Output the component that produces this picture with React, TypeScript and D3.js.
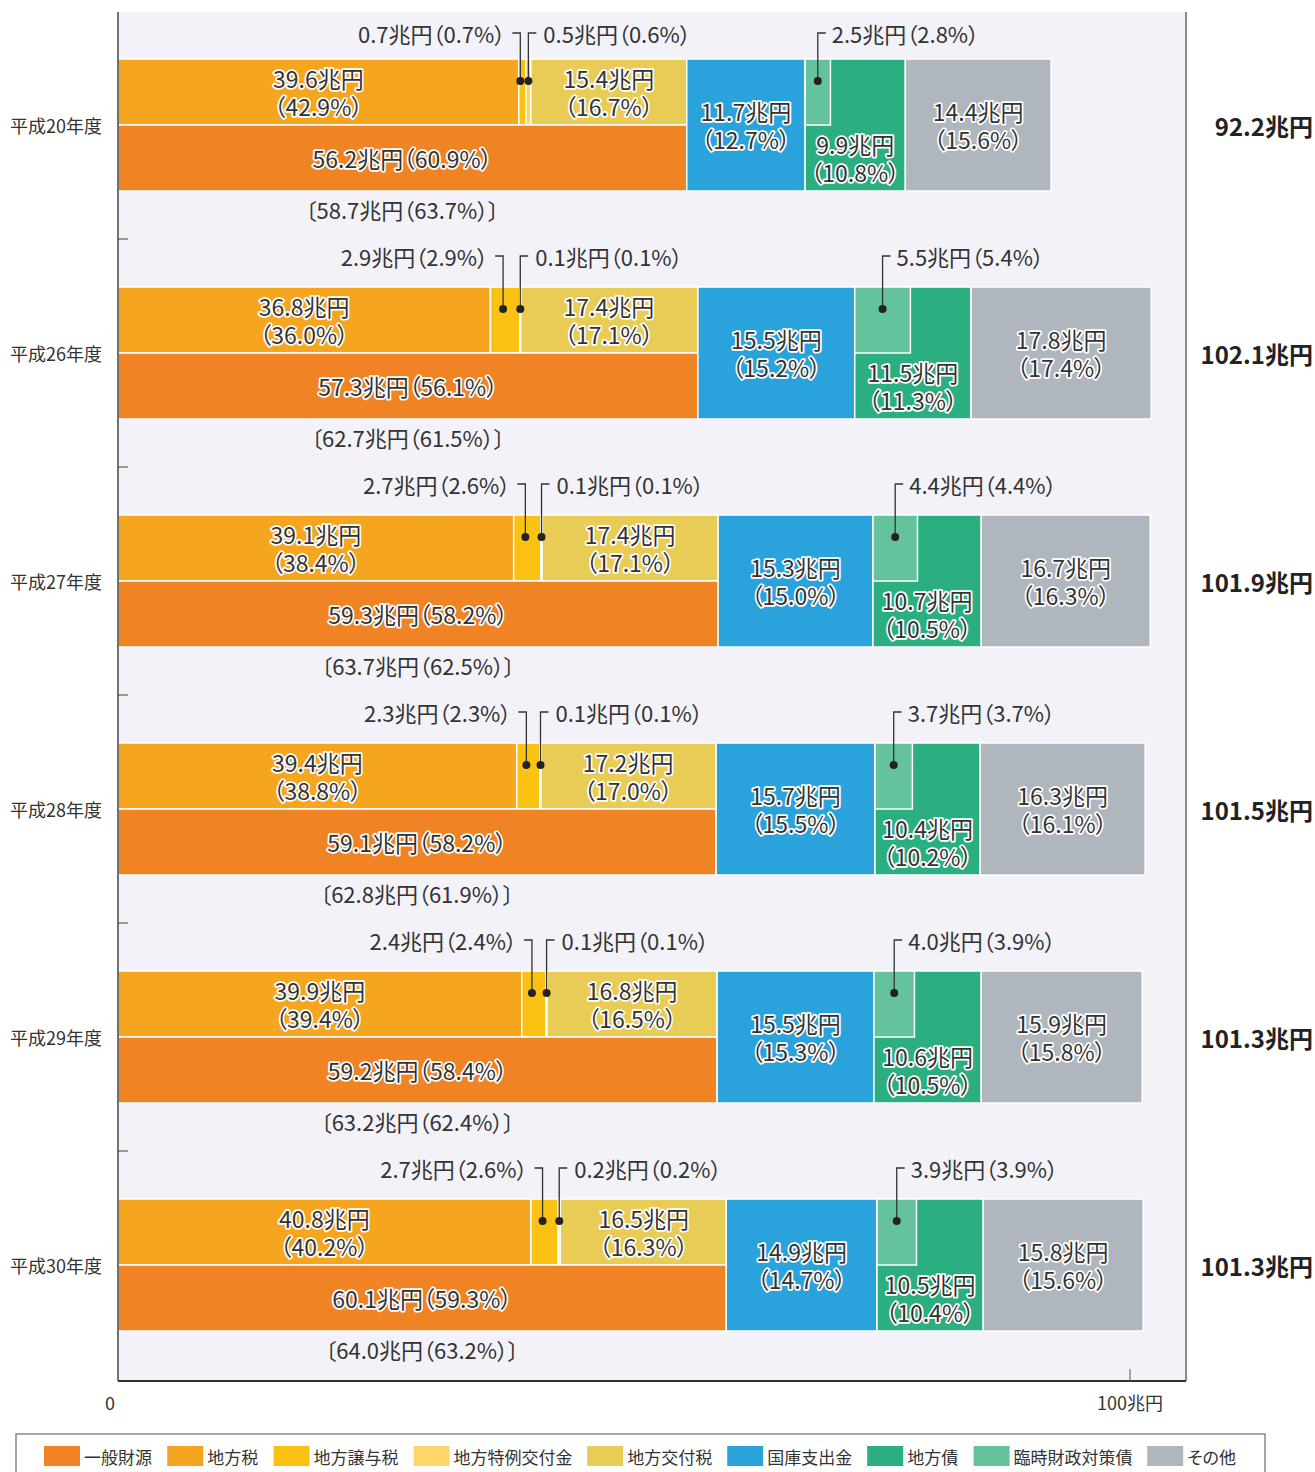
import React from 'react';
import * as d3 from 'd3';

const years = ['平成20年度', '平成26年度', '平成27年度', '平成28年度', '平成29年度', '平成30年度'];
const totals = [92.2, 102.1, 101.9, 101.5, 101.3, 101.3];

const localTax = [39.6, 36.8, 39.1, 39.4, 39.9, 40.8];
const localTaxPct = [42.9, 36.0, 38.4, 38.8, 39.4, 40.2];
const transferTax = [0.7, 2.9, 2.7, 2.3, 2.4, 2.7];
const transferTaxPct = [0.7, 2.9, 2.6, 2.3, 2.4, 2.6];
const specialGrant = [0.5, 0.1, 0.1, 0.1, 0.1, 0.2];
const specialGrantPct = [0.6, 0.1, 0.1, 0.1, 0.1, 0.2];
const allocationTax = [15.4, 17.4, 17.4, 17.2, 16.8, 16.5];
const allocationTaxPct = [16.7, 17.1, 17.1, 17.0, 16.5, 16.3];
const general = [56.2, 57.3, 59.3, 59.1, 59.2, 60.1];
const generalPct = [60.9, 56.1, 58.2, 58.2, 58.4, 59.3];
const generalPlus = [58.7, 62.7, 63.7, 62.8, 63.2, 64.0];
const generalPlusPct = [63.7, 61.5, 62.5, 61.9, 62.4, 63.2];
const treasury = [11.7, 15.5, 15.3, 15.7, 15.5, 14.9];
const treasuryPct = [12.7, 15.2, 15.0, 15.5, 15.3, 14.7];
const localBond = [9.9, 11.5, 10.7, 10.4, 10.6, 10.5];
const localBondPct = [10.8, 11.3, 10.5, 10.2, 10.5, 10.4];
const tempBond = [2.5, 5.5, 4.4, 3.7, 4.0, 3.9];
const tempBondPct = [2.8, 5.4, 4.4, 3.7, 3.9, 3.9];
const other = [14.4, 17.8, 16.7, 16.3, 15.9, 15.8];
const otherPct = [15.6, 17.4, 16.3, 16.1, 15.8, 15.6];

const legendNames = ['一般財源', '地方税', '地方譲与税', '地方特例交付金', '地方交付税', '国庫支出金', '地方債', '臨時財政対策債', 'その他'];
const colors = ['#f08324', '#f6a51f', '#fcc213', '#fdd66a', '#e8cc55', '#2aa3dc', '#2caf80', '#64c39c', '#b0b6bd'];

const FONT = '"Noto Sans CJK JP", "Noto Sans", sans-serif';
const W = 1315;
const H = 1472;
const BAND = 66;

const x = d3.scaleLinear().domain([0, 100]).range([118, 1130]);
const y = d3.scaleBand<string>().domain(years).range([11, 1379]);

const fmt = (v: number) => v.toFixed(1);
const yen = (v: number) => `${fmt(v)}兆円`;
const pct = (v: number) => `（${fmt(v)}%）`;

const haloProps = {
  textAnchor: 'middle',
  dominantBaseline: 'central',
  fontSize: 23,
  fill: '#333',
  stroke: '#fff',
  strokeWidth: 3.5,
  strokeLinejoin: 'round',
  paintOrder: 'stroke',
} as any;

// two stacked lines as a single text element
const Halo2 = ({ x, y, a, b }: any) => (
  <text {...haloProps} y={y - 14}>
    <tspan x={x}>{a}</tspan>
    <tspan x={x} dy={28}>{b}</tspan>
  </text>
);

const Seg = ({ x0, x1, y0, y1, color }: any) => (
  <rect x={x(x0)} y={y0} width={x(x1) - x(x0)} height={y1 - y0} fill={color} stroke="#fff" strokeWidth={1.5} />
);

const Row = ({ i }: { i: number }) => {
  const cy = (y(years[i]) ?? 0) + y.bandwidth() / 2;
  const top = cy - BAND;
  const bot = cy + BAND;
  const a1 = localTax[i];
  const a2 = a1 + transferTax[i];
  const a3 = a2 + specialGrant[i];
  const a4 = a3 + allocationTax[i];
  const g = general[i];
  const t1 = g + treasury[i];
  const b1 = t1 + localBond[i];
  const o1 = b1 + other[i];
  const cx = (p: number, q: number) => (x(p) + x(q)) / 2;
  const labelY = i === 0 ? top - 26 : top - 31;
  const dotY = top + 22;
  const d1 = cx(a1, a2) - 2;
  const d2 = cx(a2, a3);
  const d3x = cx(t1, t1 + tempBond[i]);
  return (
    <g>
      <Seg x0={0} x1={a1} y0={top} y1={cy} color={colors[1]} />
      <Seg x0={a1} x1={a2} y0={top} y1={cy} color={colors[2]} />
      <Seg x0={a2} x1={a3} y0={top} y1={cy} color={colors[3]} />
      <Seg x0={a3} x1={g} y0={top} y1={cy} color={colors[4]} />
      <Seg x0={0} x1={g} y0={cy} y1={bot} color={colors[0]} />
      <Seg x0={g} x1={t1} y0={top} y1={bot} color={colors[5]} />
      <Seg x0={t1} x1={b1} y0={top} y1={bot} color={colors[6]} />
      <Seg x0={t1} x1={t1 + tempBond[i]} y0={top} y1={cy} color={colors[7]} />
      <Seg x0={b1} x1={o1} y0={top} y1={bot} color={colors[8]} />

      <Halo2 x={cx(0, a1)} y={top + 33} a={yen(localTax[i])} b={pct(localTaxPct[i])} />
      <Halo2 x={cx(a3, a4)} y={top + 33} a={yen(allocationTax[i])} b={pct(allocationTaxPct[i])} />
      <text {...haloProps} x={cx(0, g)} y={cy + 33}>{yen(general[i]) + pct(generalPct[i])}</text>
      <Halo2 x={cx(g, t1)} y={cy} a={yen(treasury[i])} b={pct(treasuryPct[i])} />
      <Halo2 x={cx(t1, b1)} y={cy + 33} a={yen(localBond[i])} b={pct(localBondPct[i])} />
      <Halo2 x={cx(b1, o1)} y={cy} a={yen(other[i])} b={pct(otherPct[i])} />

      <text x={cx(0, g)} y={bot + 18} textAnchor="middle" dominantBaseline="central" fontSize={22} fill="#333">
        {`〔${yen(generalPlus[i])}（${fmt(generalPlusPct[i])}%）〕`}
      </text>

      <g fill="none" stroke="#333" strokeWidth={1.3}>
        <polyline points={`${d1},${dotY} ${d1},${labelY} ${d1 - 8},${labelY}`} />
        <polyline points={`${d2},${dotY} ${d2},${labelY} ${d2 + 8},${labelY}`} />
        <polyline points={`${d3x},${dotY} ${d3x},${labelY} ${d3x + 8},${labelY}`} />
      </g>
      <g fill="#222">
        <circle cx={d1} cy={dotY} r={4} />
        <circle cx={d2} cy={dotY} r={4} />
        <circle cx={d3x} cy={dotY} r={4} />
      </g>
      <g fontSize={22} fill="#333" dominantBaseline="central">
        <text x={d1 - 15} y={labelY} textAnchor="end">{yen(transferTax[i]) + pct(transferTaxPct[i])}</text>
        <text x={d2 + 15} y={labelY} textAnchor="start">{yen(specialGrant[i]) + pct(specialGrantPct[i])}</text>
        <text x={d3x + 14} y={labelY} textAnchor="start">{yen(tempBond[i]) + pct(tempBondPct[i])}</text>
      </g>

      <text x={10} y={cy} dominantBaseline="central" fontSize={18} fill="#333">{years[i]}</text>
      <text x={1313} y={cy} textAnchor="end" dominantBaseline="central" fontSize={24} fontWeight="bold" fill="#222">
        {yen(totals[i])}
      </text>
    </g>
  );
};

const App = () => {
  let lx = 44;
  const legendItems = legendNames.map((name, k) => {
    const pos = lx;
    lx += 36 + 4 + name.length * 16.8 + 16;
    return { name, pos, color: colors[k] };
  });
  return (
    <svg
      width={W}
      height={H}
      style={{ position: 'absolute', left: 0, top: 0, fontFamily: FONT, background: '#fff', fontFeatureSettings: '"palt"' }}
    >
      <rect x={118} y={12} width={1186 - 118} height={1381 - 12} fill="#f2f2f8" />
      {years.map((_, i) => (
        <Row key={i} i={i} />
      ))}
      {years.slice(1).map((yr) => (
        <line key={yr} x1={118} x2={128} y1={y(yr)} y2={y(yr)} stroke="#444" strokeWidth={1} />
      ))}
      <line x1={118} x2={118} y1={12} y2={1381} stroke="#444" strokeWidth={1.5} />
      <line x1={1186} x2={1186} y1={12} y2={1381} stroke="#666" strokeWidth={1.5} />
      <line x1={118} x2={1186} y1={1381} y2={1381} stroke="#333" strokeWidth={2} />
      <line x1={x(100)} x2={x(100)} y1={1369} y2={1381} stroke="#555" strokeWidth={1} />
      <text x={x(0) - 8} y={1402} textAnchor="middle" dominantBaseline="central" fontSize={18} fill="#333">0</text>
      <text x={x(100)} y={1402} textAnchor="middle" dominantBaseline="central" fontSize={18} fill="#333">100兆円</text>

      <rect x={16} y={1434} width={1249} height={60} fill="#fff" stroke="#888" strokeWidth={1.5} />
      {legendItems.map((it) => (
        <g key={it.name}>
          <rect x={it.pos} y={1446} width={36} height={20} fill={it.color} />
          <text x={it.pos + 40} y={1456} dominantBaseline="central" fontSize={17} fill="#333">{it.name}</text>
        </g>
      ))}
    </svg>
  );
};

export default App;
